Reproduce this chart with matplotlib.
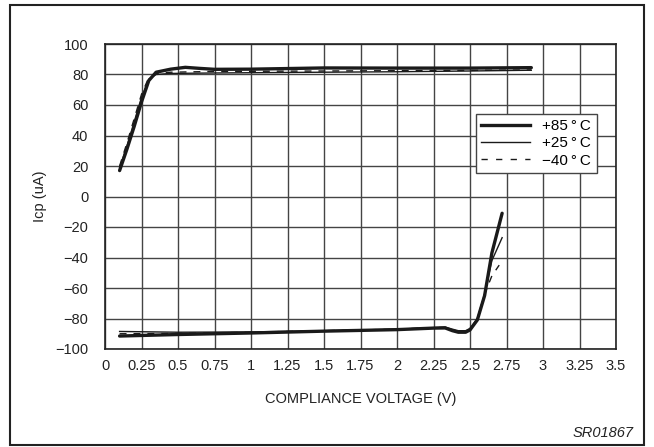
import matplotlib
matplotlib.use("Agg")
import matplotlib.pyplot as plt
from matplotlib.patches import Rectangle
from matplotlib.lines import Line2D

plt.rcParams['font.family'] = ['Liberation Sans', 'DejaVu Sans']

# Upper branch (source current)
up_x85 = [0.10, 0.15, 0.20, 0.25, 0.30, 0.35, 0.45, 0.55, 0.65, 0.75, 1.00, 1.50, 2.00, 2.50, 2.92]
up_y85 = [17, 31, 46, 62, 76, 81.5, 83.5, 84.7, 84.0, 83.4, 83.5, 84.3, 84.2, 84.2, 84.5]
up_x25 = [0.10, 0.15, 0.20, 0.25, 0.30, 0.35, 0.45, 0.75, 1.50, 2.00, 2.50, 2.92]
up_y25 = [19, 33, 49, 65, 77, 80.0, 80.7, 81.0, 81.5, 81.8, 82.3, 82.8]
up_xm40 = [0.10, 0.15, 0.20, 0.25, 0.30, 0.35, 0.45, 0.75, 1.50, 2.00, 2.50, 2.92]
up_ym40 = [20, 35, 51, 67, 78, 80.5, 81.5, 82.0, 82.3, 82.5, 82.7, 83.0]

# Lower branch (sink current)
lo_x85 = [0.10, 0.50, 1.00, 1.50, 2.00, 2.25, 2.33, 2.38, 2.42, 2.47, 2.50, 2.55, 2.60, 2.65, 2.72]
lo_y85 = [-91.5, -90.5, -89.5, -88.3, -87.3, -86.3, -86.2, -88.0, -89.0, -89.0, -87.5, -81, -65, -37, -11]
lo_x25 = [0.10, 0.50, 1.00, 1.50, 2.00, 2.25, 2.33, 2.38, 2.42, 2.47, 2.50, 2.55, 2.60, 2.65, 2.72]
lo_y25 = [-88.5, -89.0, -88.8, -88.0, -87.0, -86.0, -85.6, -87.0, -88.0, -88.0, -86.5, -80, -64, -42, -27]
lo_xm40 = [0.10, 0.50, 1.00, 1.50, 2.00, 2.25, 2.33, 2.38, 2.42, 2.47, 2.50, 2.55, 2.60, 2.65, 2.70]
lo_ym40 = [-90.0, -89.8, -89.0, -88.0, -87.0, -86.0, -85.8, -87.5, -88.5, -88.5, -87.0, -80.5, -64, -52, -45]

x_ticks = [0, 0.25, 0.5, 0.75, 1, 1.25, 1.5, 1.75, 2, 2.25, 2.5, 2.75, 3, 3.25, 3.5]
x_ticklabels = ['0', '0.25', '0.5', '0.75', '1', '1.25', '1.5', '1.75', '2', '2.25', '2.5', '2.75', '3', '3.25', '3.5']
y_ticks = [100, 80, 60, 40, 20, 0, -20, -40, -60, -80, -100]
y_ticklabels = ['100', '80', '60', '40', '20', '0', '\u221220', '\u221240', '\u221260', '\u221280', '\u2212100']
legend_labels = ['+85\u2009\u00b0\u2009C', '+25\u2009\u00b0\u2009C', '\u221240\u2009\u00b0\u2009C']

fig = plt.figure(figsize=(6.54, 4.47), dpi=100)
fig.patches.append(Rectangle((10/654, 2/447), 634/654, 440/447, transform=fig.transFigure,
                             fill=False, edgecolor='#222222', linewidth=1.5))

ax = fig.add_axes([105/654, 1 - 349/447, 511/654, 305/447])
ax.set_xlim(0, 3.5)
ax.set_ylim(-100, 100)
ax.set_xticks(x_ticks)
ax.set_xticklabels(x_ticklabels)
ax.set_yticks(y_ticks)
ax.set_yticklabels(y_ticklabels)
ax.tick_params(axis='x', length=0, labelsize=10.5, pad=7, colors='#222222')
ax.tick_params(axis='y', length=0, labelsize=10.5, pad=12, colors='#222222')
ax.grid(True, color='#444444', linewidth=1.0)
ax.set_axisbelow(True)
for s in ax.spines.values():
    s.set_linewidth(1.2)
    s.set_color('#222222')

lw85, lw25, lwm40 = 2.4, 1.0, 1.0
c = '#1a1a1a'
ax.plot(up_x85, up_y85, color=c, lw=lw85, solid_joinstyle='round', solid_capstyle='round')
ax.plot(up_x25, up_y25, color=c, lw=lw25)
ax.plot(up_xm40, up_ym40, color=c, lw=lwm40, ls=(0, (5, 5)))
ax.plot(lo_x85, lo_y85, color=c, lw=lw85, solid_joinstyle='round', solid_capstyle='round')
ax.plot(lo_x25, lo_y25, color=c, lw=lw25)
ax.plot(lo_xm40, lo_ym40, color=c, lw=lwm40, ls=(0, (5, 5)))

handles = [Line2D([], [], color=c, lw=lw85),
           Line2D([], [], color=c, lw=lw25),
           Line2D([], [], color=c, lw=lwm40, ls=(0, (4.5, 6)))]
leg = ax.legend(handles, legend_labels, loc='upper left', bbox_to_anchor=(0.726, 0.772),
                fancybox=False, framealpha=1, edgecolor='#444444', fontsize=11,
                handlelength=3.2, labelspacing=0.22, borderpad=0.35, handletextpad=0.8,
                borderaxespad=0)
leg.get_frame().set_linewidth(1.0)

ax.set_xlabel('COMPLIANCE VOLTAGE (V)', fontsize=10.5, labelpad=14, color='#222222')
ax.set_ylabel('Icp (uA)', fontsize=10.5, labelpad=6, color='#222222')
fig.text(634/654, 1 - 433/447, 'SR01867', ha='right', va='center', fontsize=10.5,
         style='italic', color='#222222')

fig.savefig('out.png', dpi=100)
